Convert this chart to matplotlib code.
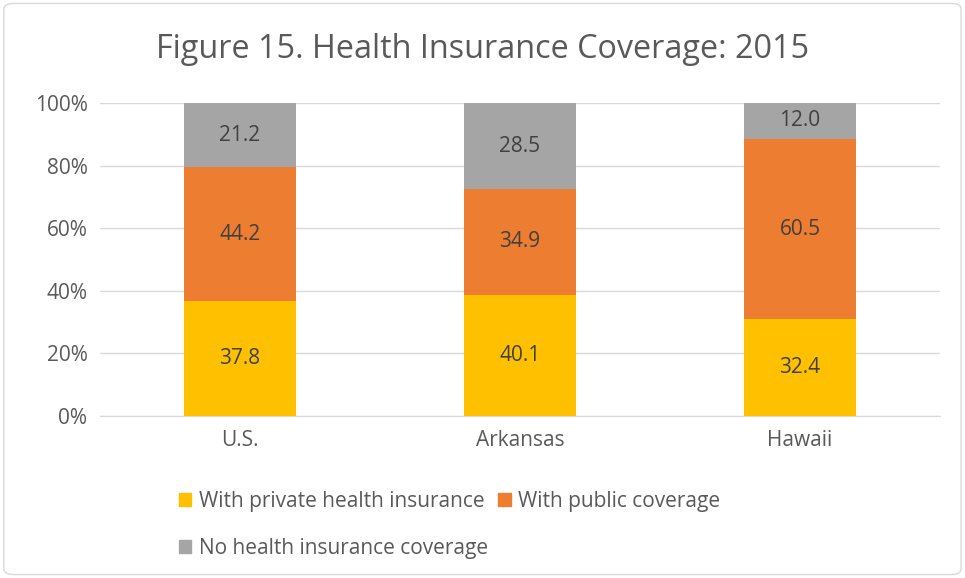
import matplotlib
matplotlib.use('Agg')
import matplotlib.pyplot as plt
import numpy as np
from matplotlib.patches import FancyBboxPatch, Patch

plt.rcParams['font.family'] = ['Open Sans', 'DejaVu Sans']

# data (percent values as labelled; bars are normalized to 100%)
states = ["U.S.", "Arkansas", "Hawaii"]
private = [37.8, 40.1, 32.4]
public = [44.2, 34.9, 60.5]
uninsured = [21.2, 28.5, 12.0]
series_names = ["With private health insurance", "With public coverage",
                "No health insurance coverage"]
colors = ["#FFC000", "#ED7D31", "#A5A5A5"]
yticks = [0, 20, 40, 60, 80, 100]

fig = plt.figure(figsize=(9.65, 5.78), dpi=100)
ax = fig.add_axes([0.1036, 0.2803, 0.8705, 0.5415])

vals = np.array([private, public, uninsured])
totals = vals.sum(axis=0)
shares = vals / totals * 100
x = np.arange(len(states))
bottom = np.zeros(len(states))
for i in range(3):
    ax.bar(x, shares[i], 0.4, bottom=bottom, color=colors[i], zorder=3)
    for j in range(len(states)):
        ax.text(x[j], bottom[j] + shares[i][j] / 2, f"{vals[i][j]:.1f}",
                ha='center', va='center', fontsize=15, color='#404040', zorder=4)
    bottom += shares[i]

ax.set_xlim(-0.5, 2.5)
ax.set_ylim(0, 100)
ax.set_yticks(yticks)
ax.set_yticklabels([f"{t}%" for t in yticks])
ax.set_xticks(x)
ax.set_xticklabels(states)
ax.tick_params(axis='both', length=0, labelsize=15, labelcolor='#595959')
ax.tick_params(axis='x', pad=10)
ax.tick_params(axis='y', pad=9)
ax.grid(axis='y', color='#D9D9D9', linewidth=1, zorder=0)
for s in ['top', 'right', 'left']:
    ax.spines[s].set_visible(False)
ax.spines['bottom'].set_color('#D9D9D9')

fig.text(0.5, 1 - 49 / 578, "Figure 15. Health Insurance Coverage: 2015",
         ha='center', va='center', fontsize=23.3, color='#595959')

handles = [Patch(color=c) for c in colors]
order = [0, 2, 1]
leg = fig.legend([handles[k] for k in order], [series_names[k] for k in order],
                 loc='upper left', bbox_to_anchor=(160 / 965, 1 - 472 / 578),
                 ncol=2, frameon=False, fontsize=15, handlelength=0.6,
                 handleheight=0.6, handletextpad=0.35, columnspacing=0.5,
                 labelspacing=1.25)
for t in leg.get_texts():
    t.set_color('#595959')

border = FancyBboxPatch((0.004, 0.006), 0.992, 0.988,
                        boxstyle="round,pad=0,rounding_size=0.01",
                        transform=fig.transFigure, fill=False,
                        edgecolor='#D9D9D9', linewidth=1)
fig.patches.append(border)

fig.savefig('out.png', dpi=100)
